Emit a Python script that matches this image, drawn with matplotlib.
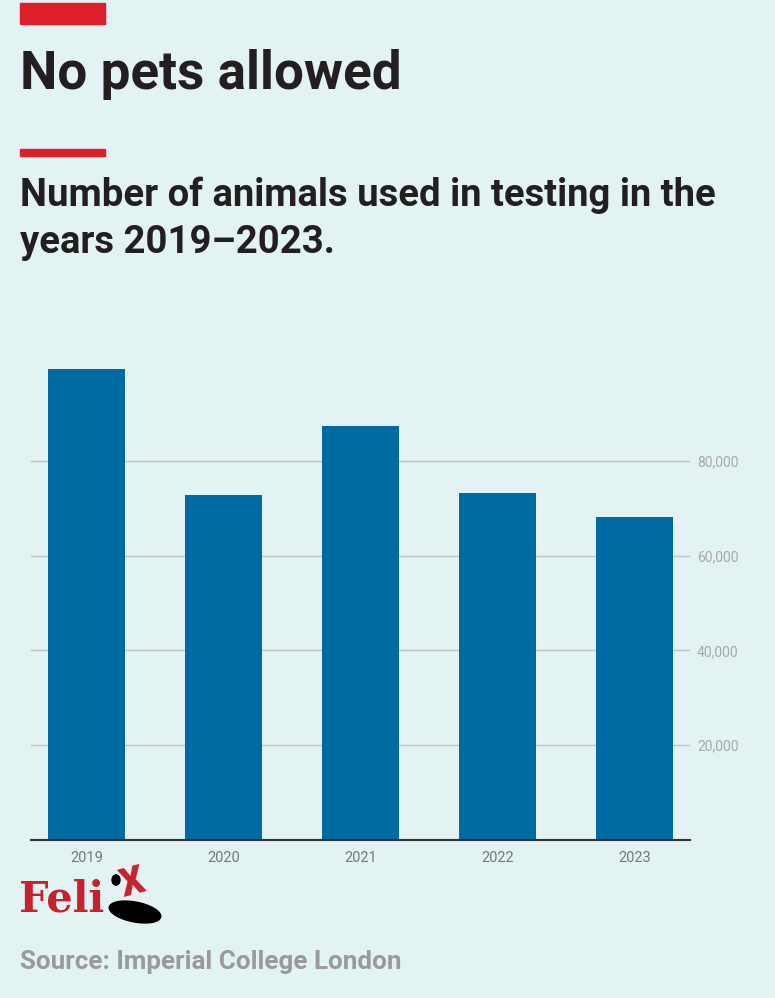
import matplotlib.pyplot as plt
from matplotlib.patches import Ellipse, Circle
import numpy as np

years = ["2019", "2020", "2021", "2022", "2023"]
animals = [99400, 72800, 87400, 73200, 68200]
yticks = [20000, 40000, 60000, 80000]

bg = "#e3f3f3"
red = "#dc1f2b"

plt.rcParams['font.family'] = ['Roboto', 'DejaVu Sans']

fig = plt.figure(figsize=(7.75, 9.98), dpi=100)
fig.patch.set_facecolor(bg)

ax = fig.add_axes([31/775, 158/998, 659/775, 474/998])
ax.set_facecolor(bg)
x = np.arange(len(years))
ax.bar(x, animals, width=0.562, color="#006ba3", zorder=2)
ax.set_xlim(-0.405, 4.405)
ax.set_ylim(0, 100000)
ax.set_yticks(yticks)
ax.set_yticklabels([f"{v:,}" for v in yticks])
ax.yaxis.tick_right()
ax.tick_params(axis='y', length=0, pad=5, labelsize=10, labelcolor="#a8a8a8")
ax.set_xticks(x)
ax.set_xticklabels(years)
ax.tick_params(axis='x', length=0, pad=8, labelsize=10.5, labelcolor="#777777")
ax.grid(axis='y', color="#c4c4c4", linewidth=1, zorder=1)
for s in ['top', 'right', 'left']:
    ax.spines[s].set_visible(False)
ax.spines['bottom'].set_color("#333333")
ax.spines['bottom'].set_linewidth(1.5)
ax.spines['bottom'].set_zorder(3)

# red accent bars
fig.patches.append(plt.Rectangle((20/775, 1 - 24/998), 85/775, 21/998,
                                 transform=fig.transFigure, color=red))
fig.patches.append(plt.Rectangle((20/775, 1 - 156/998), 85/775, 7/998,
                                 transform=fig.transFigure, color=red))

fig.text(20/775, 1 - 75/998, "No pets allowed", fontsize=38.2, fontweight='bold',
         color="#231f20", va='center', ha='left')
fig.text(20/775, 1 - 219/998, "Number of animals used in testing in the\nyears 2019\u20132023.",
         fontsize=27.5, fontweight='bold', color="#231f20", va='center', ha='left',
         linespacing=1.35)

# logo
W, H = 775, 998
fig.text(19/W, 1 - 899/H, "Feli", fontsize=30, fontweight='heavy',
         family=['DejaVu Serif'], color="#c8202f", va='center', ha='left')
fig.patches.append(Ellipse((135/W, 1 - 912/H), 52/W, 20/H, angle=-8,
                           transform=fig.transFigure, color="black"))
fig.patches.append(Circle((116/W, 1 - 880/H), 4/W, transform=fig.transFigure, color="black"))
fig.text(133/W, 1 - 884/H, "X", fontsize=27, fontweight='heavy',
         color="#c8202f", va='center', ha='center', rotation=15)

fig.text(20/775, 1 - 962/998, "Source: Imperial College London", fontsize=18.7,
         fontweight='bold', color="#9a9a9a", va='center', ha='left')

fig.savefig("out.png", dpi=100, facecolor=bg)
